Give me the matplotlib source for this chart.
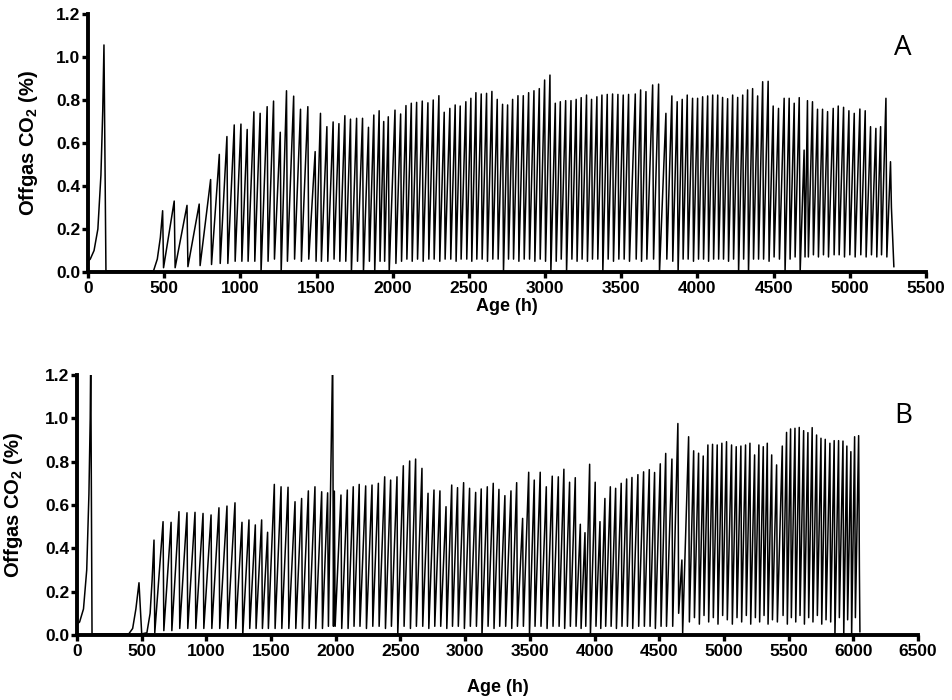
import numpy as np
import matplotlib
matplotlib.use('Agg')
import matplotlib.pyplot as plt
from matplotlib.ticker import FormatStrFormatter

plt.rcParams['font.family'] = ['Liberation Sans', 'DejaVu Sans']
plt.rcParams['mathtext.fontset'] = 'custom'
plt.rcParams['mathtext.rm'] = 'Liberation Sans:bold'
plt.rcParams['mathtext.it'] = 'Liberation Sans:bold'
plt.rcParams['mathtext.bf'] = 'Liberation Sans:bold'

# ---- Panel A: start-up (batch peak + lag), then one peak/trough per cycle ----
a_start_t = [0, 15, 40, 65, 85, 97, 105, 118, 430, 455, 475]
a_start_v = [0.05, 0.06, 0.10, 0.20, 0.45, 0.75, 1.056, 0.005, 0.005, 0.06, 0.16]

a_peak_t = [490, 566, 650, 730, 805, 862, 912, 960, 1004, 1045,
            1089, 1130, 1176, 1218, 1262, 1303, 1350, 1395, 1443, 1491,
            1526, 1568, 1609, 1647, 1686, 1723, 1763, 1802, 1841, 1876,
            1911, 1941, 1971, 2015, 2052, 2087, 2122, 2157, 2194, 2231,
            2266, 2303, 2338, 2375, 2410, 2443, 2480, 2513, 2546, 2581,
            2616, 2651, 2686, 2721, 2754, 2787, 2822, 2857, 2892, 2927,
            2962, 2997, 3032, 3067, 3100, 3135, 3170, 3204, 3237, 3272,
            3305, 3340, 3373, 3408, 3443, 3478, 3513, 3548, 3592, 3627,
            3662, 3706, 3745, 3793, 3832, 3867, 3900, 3933, 3968, 4001,
            4034, 4067, 4100, 4133, 4165, 4198, 4231, 4264, 4297, 4329,
            4362, 4395, 4428, 4464, 4497, 4532, 4569, 4602, 4635, 4668,
            4700, 4722, 4755, 4788, 4821, 4854, 4891, 4924, 4959, 4994,
            5029, 5066, 5101, 5136, 5171, 5202, 5237, 5267]
a_peak_v = [0.285, 0.33, 0.31, 0.316, 0.43, 0.547, 0.63, 0.684, 0.688, 0.663,
            0.745, 0.738, 0.769, 0.795, 0.65, 0.843, 0.818, 0.757, 0.769, 0.56,
            0.738, 0.676, 0.698, 0.69, 0.727, 0.711, 0.715, 0.715, 0.673, 0.73,
            0.75, 0.70, 0.722, 0.753, 0.735, 0.774, 0.785, 0.789, 0.795, 0.787,
            0.80, 0.82, 0.743, 0.761, 0.777, 0.772, 0.792, 0.808, 0.834, 0.828,
            0.831, 0.840, 0.803, 0.780, 0.777, 0.803, 0.82, 0.82, 0.834, 0.843,
            0.853, 0.893, 0.916, 0.785, 0.792, 0.797, 0.797, 0.803, 0.811, 0.823,
            0.803, 0.815, 0.823, 0.826, 0.828, 0.826, 0.823, 0.826, 0.828, 0.847,
            0.839, 0.87, 0.874, 0.738, 0.819, 0.792, 0.803, 0.823, 0.808, 0.808,
            0.815, 0.819, 0.823, 0.823, 0.812, 0.806, 0.823, 0.812, 0.823, 0.847,
            0.853, 0.819, 0.885, 0.887, 0.772, 0.761, 0.808, 0.808, 0.785, 0.811,
            0.567, 0.797, 0.792, 0.757, 0.757, 0.746, 0.761, 0.772, 0.766, 0.75,
            0.738, 0.758, 0.75, 0.676, 0.668, 0.676, 0.808, 0.513]
a_trough_v = [0.02, 0.02, 0.025, 0.03, 0.035, 0.04, 0.04, 0.05, 0.05, 0.05,
              0.05, 0.0, 0.05, 0.06, 0.0, 0.05, 0.06, 0.05, 0.06, 0.05,
              0.05, 0.05, 0.06, 0.05, 0.05, 0.0, 0.05, 0.0, 0.05, 0.0,
              0.05, 0.05, 0.0, 0.04, 0.05, 0.06, 0.05, 0.06, 0.05, 0.06,
              0.06, 0.05, 0.06, 0.06, 0.05, 0.06, 0.06, 0.05, 0.06, 0.06,
              0.05, 0.06, 0.06, 0.0, 0.06, 0.06, 0.05, 0.06, 0.06, 0.05,
              0.06, 0.05, 0.0, 0.05, 0.06, 0.0, 0.06, 0.05, 0.06, 0.05,
              0.06, 0.06, 0.0, 0.06, 0.05, 0.06, 0.06, 0.05, 0.06, 0.05,
              0.06, 0.06, 0.0, 0.06, 0.05, 0.0, 0.06, 0.06, 0.05, 0.06,
              0.06, 0.05, 0.06, 0.06, 0.06, 0.05, 0.06, 0.0, 0.06, 0.0,
              0.06, 0.06, 0.06, 0.05, 0.07, 0.06, 0.0, 0.06, 0.07, 0.0,
              0.07, 0.07, 0.08, 0.07, 0.08, 0.07, 0.08, 0.08, 0.07, 0.08,
              0.07, 0.08, 0.07, 0.08, 0.07, 0.08, 0.07, 0.30]
a_end_t = [5289]
a_end_v = [0.025]

# ---- Panel B ----
b_start_t = [0, 20, 50, 75, 92, 102, 106, 116, 400, 430, 455, 479, 500, 540, 565, 580]
b_start_v = [0.05, 0.06, 0.12, 0.30, 0.65, 1.00, 1.30, 0.005, 0.005, 0.03, 0.12, 0.241,
             0.005, 0.01, 0.10, 0.25]

b_peak_t = [595, 665, 727, 788, 850, 912, 974, 1036, 1097, 1159,
            1221, 1275, 1329, 1378, 1427, 1473, 1525, 1577, 1631, 1685,
            1736, 1788, 1839, 1891, 1937, 1976, 1989, 2040, 2089, 2135,
            2181, 2231, 2280, 2329, 2378, 2424, 2473, 2522, 2571, 2617,
            2666, 2713, 2759, 2805, 2852, 2896, 2941, 2988, 3034, 3081,
            3124, 3171, 3217, 3261, 3307, 3354, 3398, 3444, 3491, 3534,
            3580, 3627, 3673, 3720, 3763, 3807, 3851, 3890, 3926, 3962,
            4005, 4042, 4080, 4122, 4163, 4206, 4248, 4289, 4335, 4379,
            4423, 4464, 4508, 4550, 4598, 4644, 4675, 4727, 4766, 4804,
            4840, 4876, 4912, 4948, 4984, 5020, 5059, 5095, 5131, 5167,
            5201, 5237, 5270, 5304, 5335, 5369, 5407, 5451, 5484, 5515,
            5549, 5582, 5616, 5649, 5682, 5716, 5750, 5783, 5819, 5852,
            5886, 5920, 5950, 5981, 6010, 6041]
b_peak_v = [0.438, 0.523, 0.52, 0.569, 0.564, 0.566, 0.561, 0.554, 0.587, 0.595,
            0.61, 0.52, 0.531, 0.508, 0.531, 0.474, 0.695, 0.684, 0.682, 0.615,
            0.63, 0.665, 0.684, 0.661, 0.656, 1.30, 0.664, 0.646, 0.669, 0.684,
            0.695, 0.688, 0.692, 0.70, 0.73, 0.715, 0.73, 0.781, 0.803, 0.812,
            0.769, 0.654, 0.669, 0.665, 0.592, 0.692, 0.68, 0.703, 0.677, 0.658,
            0.674, 0.684, 0.70, 0.672, 0.643, 0.665, 0.703, 0.538, 0.751, 0.715,
            0.751, 0.684, 0.733, 0.73, 0.765, 0.705, 0.726, 0.511, 0.472, 0.788,
            0.705, 0.523, 0.63, 0.684, 0.677, 0.70, 0.72, 0.727, 0.74, 0.753,
            0.763, 0.75, 0.79, 0.838, 0.812, 0.976, 0.346, 0.915, 0.85, 0.839,
            0.826, 0.877, 0.88, 0.877, 0.885, 0.892, 0.877, 0.869, 0.872, 0.877,
            0.885, 0.831, 0.877, 0.869, 0.885, 0.831, 0.785, 0.872, 0.935, 0.951,
            0.954, 0.958, 0.943, 0.934, 0.957, 0.923, 0.908, 0.903, 0.885, 0.897,
            0.897, 0.895, 0.872, 0.846, 0.915, 0.92]
b_trough_v = [0.01, 0.02, 0.02, 0.03, 0.03, 0.03, 0.03, 0.03, 0.03, 0.03,
              0.03, 0.0, 0.03, 0.03, 0.03, 0.03, 0.03, 0.03, 0.03, 0.03,
              0.03, 0.03, 0.03, 0.03, 0.04, 0.04, 0.04, 0.03, 0.03, 0.04,
              0.04, 0.03, 0.04, 0.04, 0.03, 0.04, 0.0, 0.04, 0.03, 0.04,
              0.04, 0.03, 0.04, 0.04, 0.03, 0.04, 0.04, 0.03, 0.04, 0.04,
              0.0, 0.04, 0.03, 0.04, 0.04, 0.03, 0.04, 0.04, 0.0, 0.04,
              0.04, 0.03, 0.04, 0.04, 0.03, 0.04, 0.04, 0.03, 0.04, 0.0,
              0.04, 0.03, 0.04, 0.04, 0.03, 0.04, 0.04, 0.03, 0.04, 0.04,
              0.04, 0.03, 0.04, 0.04, 0.04, 0.10, 0.01, 0.06, 0.08, 0.05,
              0.09, 0.06, 0.08, 0.05, 0.09, 0.07, 0.05, 0.08, 0.06, 0.09,
              0.05, 0.08, 0.06, 0.09, 0.05, 0.07, 0.06, 0.09, 0.05, 0.08,
              0.06, 0.09, 0.05, 0.08, 0.06, 0.09, 0.05, 0.07, 0.06, 0.0,
              0.08, 0.0, 0.07, 0.0, 0.08, 0.30]
b_end_t = [6051]
b_end_v = [0.015]

DROP_H = 6  # hours from a peak down to the following trough


def build_trace(start_t, start_v, peak_t, peak_v, trough_v, end_t, end_v):
    """Join start-up points, per-cycle peak/trough points and end points."""
    assert len(peak_t) == len(peak_v) == len(trough_v)
    t = list(start_t)
    v = list(start_v)
    for pt, pv, tv in zip(peak_t, peak_v, trough_v):
        t += [pt, pt + DROP_H]
        v += [pv, tv]
    t += list(end_t)
    v += list(end_v)
    return np.array(t), np.array(v)


def style_axes(ax, xmax, xlabel_y, ylabel_x):
    ax.set_xlim(0, xmax)
    ax.set_ylim(0, 1.2)
    ax.set_xticks(np.arange(0, xmax + 1, 500))
    ax.set_yticks(np.arange(0, 1.21, 0.2))
    ax.yaxis.set_major_formatter(FormatStrFormatter('%.1f'))
    for side in ['top', 'right']:
        ax.spines[side].set_visible(False)
    for side in ['left', 'bottom']:
        ax.spines[side].set_linewidth(2.8)
    ax.tick_params(axis='both', width=2.4, length=4.5, labelsize=12.5)
    ax.tick_params(axis='y', pad=1)
    ax.tick_params(axis='x', pad=2)
    for lab in ax.get_xticklabels() + ax.get_yticklabels():
        lab.set_fontweight('bold')
    ax.set_xlabel('Age (h)', fontsize=13, fontweight='bold')
    ax.set_ylabel(r'Offgas CO$_2$ (%)', fontsize=14.5, fontweight='bold')
    ax.xaxis.set_label_coords(0.5, xlabel_y)
    ax.yaxis.set_label_coords(ylabel_x, 0.5)


fig = plt.figure(figsize=(9.52, 7.0), dpi=100)
ax1 = fig.add_axes([0.0924, 0.6114, 0.8803, 0.3686])
ax2 = fig.add_axes([0.0809, 0.0929, 0.8834, 0.3714])

ta, va = build_trace(a_start_t, a_start_v, a_peak_t, a_peak_v, a_trough_v, a_end_t, a_end_v)
tb, vb = build_trace(b_start_t, b_start_v, b_peak_t, b_peak_v, b_trough_v, b_end_t, b_end_v)

ax1.plot(ta, va, color='black', linewidth=1.1)
ax2.plot(tb, vb, color='black', linewidth=1.1)

style_axes(ax1, 5500, -0.1, -0.057)
style_axes(ax2, 6500, -0.17, -0.062)

fig.text(0.9485, 0.931, 'A', fontsize=20, family=['Open Sans', 'DejaVu Sans'], ha='center', va='center')
fig.text(0.9485, 0.406, 'B', fontsize=20, family=['Open Sans', 'DejaVu Sans'], ha='center', va='center')

fig.savefig('out.png', dpi=100)
